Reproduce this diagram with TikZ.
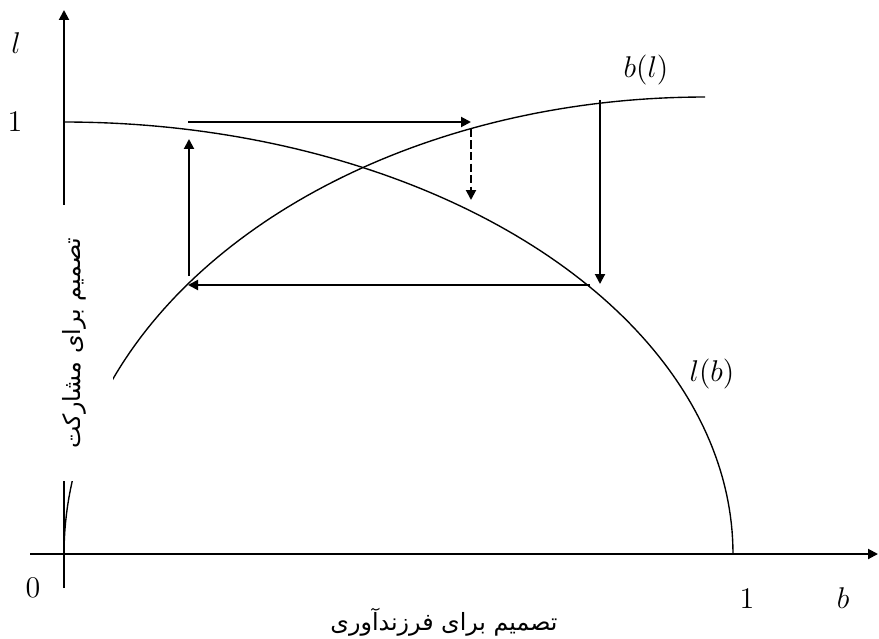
\documentclass[tikz,border=0pt]{standalone}
\usepackage{fontspec}
\newfontfamily\arabicfont[Script=Arabic]{DejaVu Sans}
\TeXXeTstate=1
\usetikzlibrary{arrows.meta}
\tikzset{
  axis/.style={line width=0.8pt, -{Triangle[length=4pt,width=4pt]}},
  curve/.style={line width=0.55pt},
  move/.style={line width=0.8pt, -{Triangle[length=4pt,width=4pt]}},
  lbl/.style={font=\fontsize{11.5}{13}\selectfont, inner sep=0pt},
  fa/.style={font=\fontsize{9.5}{11}\selectfont\arabicfont, inner sep=0pt},
}
\begin{document}
\begin{tikzpicture}[x=0.4pt, y=-0.4pt]
  \useasboundingbox (0,0) rectangle (879,639);
  % Axes
  \coordinate (xs) at (30,554);
  \coordinate (xe) at (878,554);
  \coordinate (ys) at (64,588);
  \coordinate (ye) at (64,10);
  \draw[axis] (xs) -- (xe);
  \draw[axis] (ys) -- (ye);
  % Reaction curves b(l) and l(b)
  \draw[curve] plot[domain=0:90, samples=90] ({705-641*cos(\x)}, {554-457*sin(\x)});
  \draw[curve] plot[domain=0:90, samples=90] ({64+669*sin(\x)}, {554-432*cos(\x)});
  % Vertical axis title (white box hides axis and curve)
  \node[fa, fill=white, rotate=90, minimum width=110pt, minimum height=31pt]
    (ytitle) at (74,343) {\beginR تصمیم برای مشارکت\endR};
  % Adjustment path
  \coordinate (p1) at (188,122);
  \coordinate (p2) at (471,122);
  \coordinate (p3) at (471,129);
  \coordinate (p4) at (471,200);
  \coordinate (p5) at (600,100);
  \coordinate (p6) at (600,284);
  \coordinate (p7) at (590,285);
  \coordinate (p8) at (188,285);
  \coordinate (p9) at (189,276);
  \coordinate (p10) at (189,139);
  \draw[move] (p1) -- (p2);
  \draw[move, dash pattern=on 3.2pt off 1.4pt] (p3) -- (p4);
  \draw[move] (p5) -- (p6);
  \draw[move] (p7) -- (p8);
  \draw[move] (p9) -- (p10);
  % Labels
  \node[lbl] (lax) at (16,43) {$l$};
  \node[lbl] (oney) at (15,122) {$1$};
  \node[lbl] (zero) at (33,588) {$0$};
  \node[lbl] (onex) at (747,599) {$1$};
  \node[lbl] (bax) at (843,598) {$b$};
  \node[lbl] (bl) at (646,70) {$b(l)$};
  \node[lbl] (lb) at (712,374) {$l(b)$};
  \node[fa] (xtitle) at (444,622) {\beginR تصمیم برای فرزندآوری\endR};
\end{tikzpicture}
\end{document}
